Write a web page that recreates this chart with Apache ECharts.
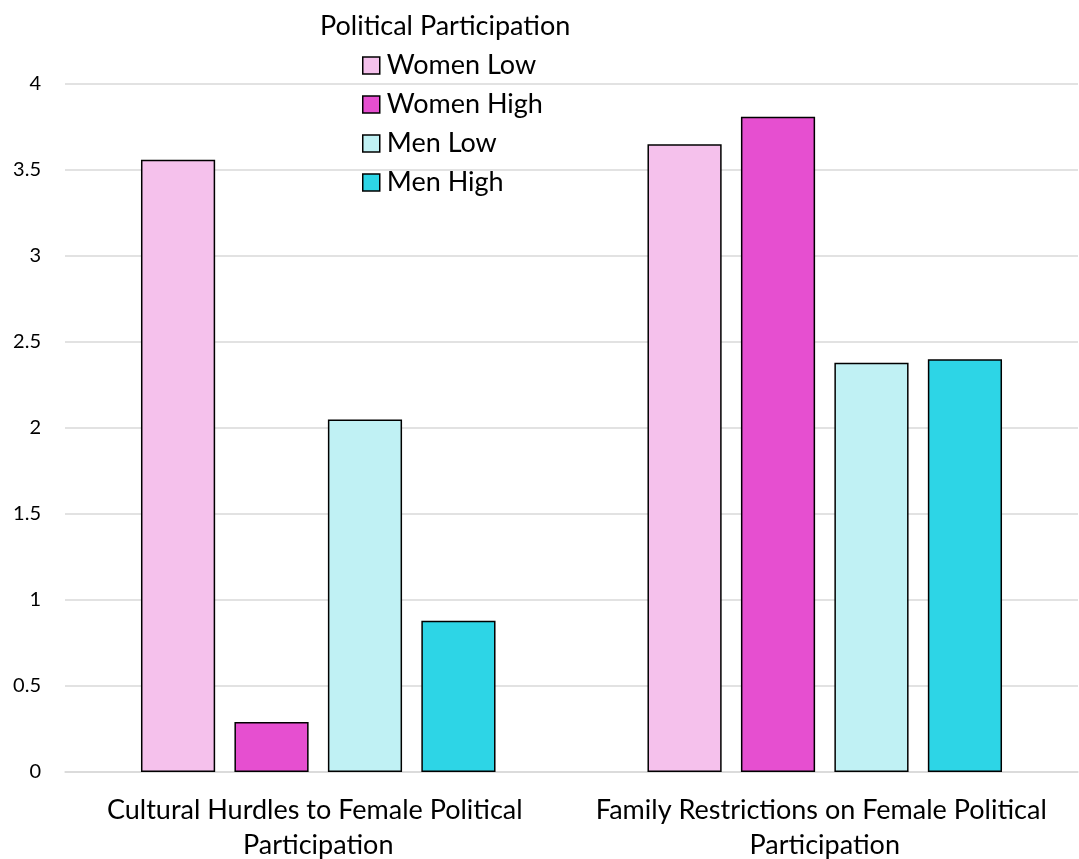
<!DOCTYPE html>
<html>
<head>
<meta charset="utf-8">
<script src="https://cdn.jsdelivr.net/npm/echarts@6/dist/echarts.min.js"></script>
<style>
  html, body { margin: 0; padding: 0; background: #fff; }
  #chart { width: 1079px; height: 859px; }
</style>
</head>
<body>
<div id="chart"></div>
<script>
const categories = ['Cultural Hurdles to Female Political Participation', 'Family Restrictions on Female Political Participation'];
const seriesNames = ['Women Low', 'Women High', 'Men Low', 'Men High'];
const womenLow = [3.56, 3.65];
const womenHigh = [0.29, 3.81];
const menLow = [2.05, 2.38];
const menHigh = [0.88, 2.40];
const colors = ['#F5C1EC', '#E64FD0', '#C0F1F4', '#2DD5E6'];

const font = 'Lato, "Open Sans", sans-serif';
const chart = echarts.init(document.getElementById('chart'));

const makeSeries = (name, data, i) => ({
    name: name,
    type: 'bar',
    data: data,
    barGap: '26%',
    barCategoryGap: '30%',
    itemStyle: {
        color: colors[i],
        borderColor: '#000',
        borderWidth: 1.5
    }
});

chart.setOption({
    animation: false,
    textStyle: { fontFamily: font },
    title: {
        text: 'Political Participation',
        left: 315,
        top: 8,
        textStyle: { fontFamily: font, fontSize: 27, fontWeight: 'normal', color: '#000' }
    },
    legend: {
        orient: 'vertical',
        left: 357,
        top: 47,
        itemWidth: 17,
        itemHeight: 17,
        itemGap: 12,
        icon: 'rect',
        itemStyle: { borderColor: '#000', borderWidth: 1.5 },
        textStyle: { fontFamily: font, fontSize: 27, color: '#000', padding: [0, 0, 0, 2] },
        data: seriesNames
    },
    grid: { left: 65, right: 1, top: 84, bottom: 87, outerBoundsMode: 'none' },
    xAxis: {
        type: 'category',
        data: categories,
        axisLine: { lineStyle: { color: '#d9d9d9', width: 1.5 } },
        axisTick: { show: false },
        axisLabel: {
            interval: 0,
            fontFamily: font,
            fontSize: 27,
            color: '#000',
            margin: 21,
            lineHeight: 35,
            width: 480,
            overflow: 'break'
        }
    },
    yAxis: {
        type: 'value',
        min: 0,
        max: 4,
        interval: 0.5,
        axisLine: { show: false },
        axisTick: { show: false },
        axisLabel: { fontFamily: font, fontSize: 20, color: '#000', margin: 24 },
        splitLine: { lineStyle: { color: '#d9d9d9', width: 1.5 } }
    },
    series: [
        makeSeries(seriesNames[0], womenLow, 0),
        makeSeries(seriesNames[1], womenHigh, 1),
        makeSeries(seriesNames[2], menLow, 2),
        makeSeries(seriesNames[3], menHigh, 3)
    ]
});
</script>
</body>
</html>
